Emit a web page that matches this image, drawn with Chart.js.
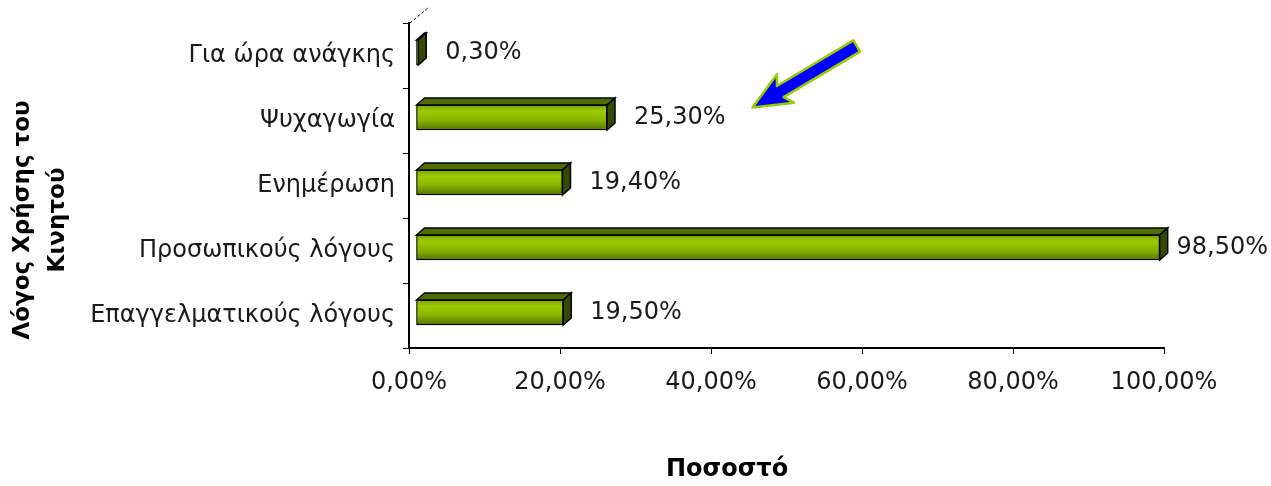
<!DOCTYPE html>
<html>
<head>
<meta charset="utf-8">
<script src="https://cdn.jsdelivr.net/npm/chart.js@4"></script>
<style>
  body { margin: 0; background: #fff; }
  canvas { display: block; }
</style>
</head>
<body>
<canvas id="myChart" width="1271" height="486"></canvas>
<script>
const categories = ["Για ώρα ανάγκης", "Ψυχαγωγία", "Ενημέρωση", "Προσωπικούς λόγους", "Επαγγελματικούς λόγους"];
const percentages = [0.3, 25.3, 19.4, 98.5, 19.5];
const xTicks = [0, 20, 40, 60, 80, 100];
const yTitle = ["Λόγος Χρήσης του", "Κινητού"];
const xTitle = "Ποσοστό";

const fontFamily = "'DejaVu Sans', Verdana, sans-serif";
const textColor = "#1a1a1a";
const depth = 8;
// small 3D projection shift of the bars off the back wall
const shiftX = 7, shiftY = -3;

const fmt = v => v.toFixed(2).replace(".", ",") + "%";

// 3D faces + front gradient on the bars
const bar3d = {
  id: "bar3d",
  beforeDatasetsDraw(chart) {
    chart.ctx.save();
    chart.ctx.translate(shiftX, shiftY);
  },
  afterDatasetsDraw(chart) {
    const ctx = chart.ctx;
    const meta = chart.getDatasetMeta(0);
    meta.data.forEach(el => {
      const { x, y, base, height } = el.getProps(["x", "y", "base", "height"], true);
      const top = y - height / 2, bottom = y + height / 2;
      const g = ctx.createLinearGradient(0, top, 0, bottom);
      g.addColorStop(0, "#7aa200");
      g.addColorStop(0.25, "#9bcb00");
      g.addColorStop(0.6, "#88b600");
      g.addColorStop(1, "#557300");
      ctx.fillStyle = g;
      ctx.fillRect(base + 1, top + 1, Math.max(0, x - base - 2), height - 2);
      ctx.strokeStyle = "#000";
      ctx.lineWidth = 1.5;
      // top face
      ctx.beginPath();
      ctx.moveTo(base, top);
      ctx.lineTo(base + depth, top - depth + 1);
      ctx.lineTo(x + depth, top - depth + 1);
      ctx.lineTo(x, top);
      ctx.closePath();
      ctx.fillStyle = "#4f6e00";
      ctx.fill();
      ctx.stroke();
      // side face
      ctx.beginPath();
      ctx.moveTo(x, top);
      ctx.lineTo(x + depth, top - depth + 1);
      ctx.lineTo(x + depth, bottom - depth + 1);
      ctx.lineTo(x, bottom);
      ctx.closePath();
      ctx.fillStyle = "#344a00";
      ctx.fill();
      ctx.stroke();
    });
    ctx.restore();
  }
};

// value labels, arrow, axis titles, back wall stub
const extras = {
  id: "extras",
  afterDraw(chart) {
    const ctx = chart.ctx;
    const area = chart.chartArea;
    const meta = chart.getDatasetMeta(0);
    ctx.save();
    ctx.font = "24px " + fontFamily;
    ctx.fillStyle = textColor;
    ctx.textBaseline = "middle";
    let arrowAnchor = null;
    meta.data.forEach((el, i) => {
      const txt = fmt(percentages[i]);
      const w = ctx.measureText(txt).width;
      let lx = el.x + shiftX + depth + 19;
      if (lx + w > chart.width - 3) lx = chart.width - 3 - w;
      ctx.fillText(txt, lx, el.y - 3);
      if (i === 1) arrowAnchor = { x: lx + w + 27, y: el.y - 13 };
    });

    // wall stub at top of y axis
    ctx.strokeStyle = "#000";
    ctx.lineWidth = 1;
    ctx.setLineDash([3, 2]);
    ctx.beginPath();
    ctx.moveTo(area.left + 1, area.top);
    ctx.lineTo(area.left + 20, area.top - 16);
    ctx.stroke();
    ctx.setLineDash([]);

    // x title
    ctx.font = "bold 24px " + fontFamily;
    ctx.textAlign = "center";
    ctx.fillStyle = "#000";
    ctx.fillText(xTitle, 727, 470);

    // y title
    ctx.font = "bold 23px " + fontFamily;
    ctx.translate(23, 220);
    ctx.rotate(-Math.PI / 2);
    yTitle.forEach((line, i) => ctx.fillText(line, 0, i * 35));
    ctx.setTransform(1, 0, 0, 1, 0, 0);

    // arrow
    if (arrowAnchor) {
      const ang = Math.atan2(-62, 104);
      ctx.translate(arrowAnchor.x, arrowAnchor.y);
      ctx.rotate(ang);
      ctx.beginPath();
      ctx.moveTo(0, 0);
      ctx.lineTo(38, -16);
      ctx.lineTo(32, -6);
      ctx.lineTo(121, -6);
      ctx.lineTo(121, 7);
      ctx.lineTo(32, 7);
      ctx.lineTo(38, 17);
      ctx.closePath();
      ctx.fillStyle = "#0000ff";
      ctx.fill();
      ctx.strokeStyle = "#99cc00";
      ctx.lineWidth = 2.5;
      ctx.lineJoin = "round";
      ctx.stroke();
    }
    ctx.restore();
  }
};

new Chart(document.getElementById("myChart"), {
  type: "bar",
  data: {
    labels: categories,
    datasets: [{
      data: percentages,
      backgroundColor: "#88b600",
      borderColor: "#000",
      borderWidth: 1.5,
      borderSkipped: false,
      barThickness: 25,
    }],
  },
  options: {
    indexAxis: "y",
    responsive: false,
    animation: false,
    layout: { padding: { top: 23, right: 107, left: 0, bottom: 0 } },
    plugins: {
      legend: { display: false },
      tooltip: { enabled: false },
    },
    scales: {
      x: {
        min: 0,
        max: 100,
        afterBuildTicks: s => { s.ticks = xTicks.map(v => ({ value: v })); },
        afterFit: s => { s.height = 138; },
        ticks: {
          callback: v => fmt(v),
          color: textColor,
          font: { family: fontFamily, size: 24 },
          padding: 14,
          maxRotation: 0,
        },
        grid: { drawOnChartArea: false, drawTicks: true, tickLength: 6, color: "#000" },
        border: { color: "#000", width: 2 },
      },
      y: {
        afterFit: s => { s.width = 409; },
        ticks: {
          color: textColor,
          font: { family: fontFamily, size: 24 },
          padding: 8,
        },
        grid: { offset: true, drawOnChartArea: false, drawTicks: true, tickLength: 6, color: "#000" },
        border: { color: "#000", width: 2 },
      },
    },
  },
  plugins: [bar3d, extras],
});
</script>
</body>
</html>
